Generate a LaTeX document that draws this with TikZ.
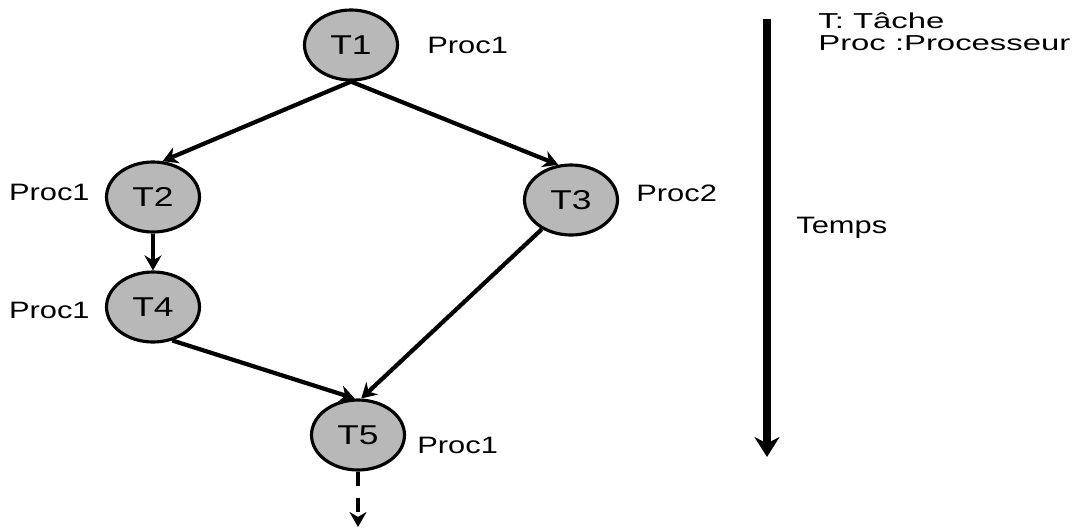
\documentclass[tikz,border=0pt]{standalone}
\usepackage{fontspec}
\newfontfamily\figfont[FakeStretch=1.3]{Liberation Sans}
\newfontfamily\legfont[FakeStretch=1.52]{Liberation Sans}
\usetikzlibrary{shapes, arrows.meta}

\tikzset{
  task/.style={ellipse, draw=black, line width=1.8pt, fill=black!28,
    minimum width=1.86cm, minimum height=1.4cm, inner sep=0pt,
    font=\figfont\fontsize{15.5}{18}\selectfont},
  proc/.style={inner sep=0pt, font=\figfont\fontsize{13.5}{16}\selectfont},
  link/.style={line width=2.4pt, -{Stealth[length=0.3cm, width=0.34cm]}},
}

\begin{document}
\begin{tikzpicture}
  \useasboundingbox (0,0) rectangle (21.56,-10.56);

  % Draw tasks
  \node[task] (T1) at (7.02,-0.90) {T1};
  \node[task] (T2) at (3.06,-3.94) {T2};
  \node[task] (T3) at (11.42,-4.00) {T3};
  \node[task] (T4) at (3.06,-6.14) {T4};
  \node[task] (T5) at (7.16,-8.70) {T5};

  % Processors
  \node[proc, anchor=west] (P1) at (8.54,-0.90) {Proc1};
  \node[proc, anchor=east] (P2) at (1.80,-3.84) {Proc1};
  \node[proc, anchor=west] (P3) at (12.72,-3.86) {Proc2};
  \node[proc, anchor=east] (P4) at (1.80,-6.20) {Proc1};
  \node[proc, anchor=west] (P5) at (8.34,-8.90) {Proc1};

  % Edges
  \draw[link] (T1.south) -- (T2.75);
  \draw[link] (T1.south) -- (T3.110);
  \draw[link] (T2.south) -- (T4.north);
  \draw[link] (T4.-60) -- (T5.95);
  \draw[link] (T3.-135) -- (T5.85);
  \coordinate (out) at (7.16,-10.54);
  \draw[link, dash pattern=on 0.28cm off 0.24cm] (T5.south) -- (out);

  % Time axis
  \coordinate (t0) at (15.34,-0.38);
  \coordinate (t1) at (15.34,-9.14);
  \draw[line width=4pt, -{Stealth[length=0.4cm, width=0.5cm]}] (t0) -- (t1);
  \node[proc, anchor=west] (temps) at (15.92,-4.56) {Temps};

  \node[proc, anchor=north west, align=left,
    font=\legfont\fontsize{12.3}{12.5}\selectfont] (legend) at (16.36,-0.24)
    {T: Tâche\\Proc :Processeur};
\end{tikzpicture}
\end{document}
